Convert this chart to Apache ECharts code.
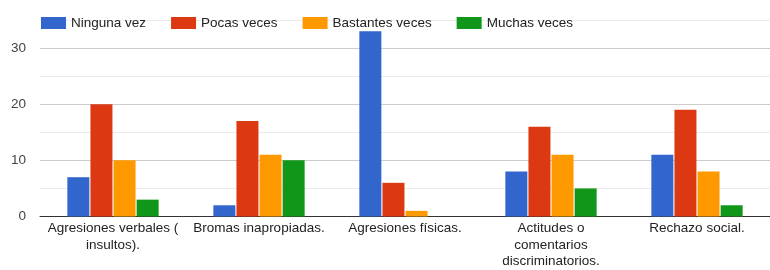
<!DOCTYPE html>
<html>
<head>
<meta charset="utf-8">
<script src="https://cdn.jsdelivr.net/npm/echarts@6/dist/echarts.min.js"></script>
<style>
html,body{margin:0;padding:0;background:#fff;}
#chart{width:770px;height:270px;}
</style>
</head>
<body>
<div id="chart"></div>
<script>
const categories = [
  "Agresiones verbales ( insultos).",
  "Bromas inapropiadas.",
  "Agresiones físicas.",
  "Actitudes o comentarios discriminatorios.",
  "Rechazo social."
];
const tickLabels = [
  "Agresiones verbales (\ninsultos).",
  "Bromas inapropiadas.",
  "Agresiones físicas.",
  "Actitudes o\ncomentarios\ndiscriminatorios.",
  "Rechazo social."
];
const seriesNames = ["Ninguna vez", "Pocas veces", "Bastantes veces", "Muchas veces"];
const ningunaVez = [7, 2, 33, 8, 11];
const pocasVeces = [20, 17, 6, 16, 19];
const bastantesVeces = [10, 11, 1, 11, 8];
const muchasVeces = [3, 10, 0, 5, 2];
const yTickLabels = ["0", "10", "20", "30"];

const colors = ["#3366cc", "#dc3912", "#ff9900", "#109618"];
const values = [ningunaVez, pocasVeces, bastantesVeces, muchasVeces];
const font = 'Arial, "Liberation Sans", sans-serif';

const chart = echarts.init(document.getElementById('chart'), null, {renderer: 'canvas'});
chart.setOption({
  animation: false,
  color: colors,
  textStyle: {fontFamily: font},
  legend: {
    left: 36,
    top: 11,
    itemWidth: 25,
    itemHeight: 12,
    itemGap: 25,
    icon: 'rect',
    textStyle: {fontSize: 13.5, color: '#222', fontFamily: font},
    data: seriesNames
  },
  grid: {left: 40, right: 0, top: 20, bottom: 51, containLabel: false},
  xAxis: {
    type: 'category',
    data: categories,
    axisTick: {show: false},
    axisLine: {lineStyle: {color: '#333', width: 1}},
    axisLabel: {
      interval: 0,
      margin: 4,
      fontSize: 13.5,
      lineHeight: 16.5,
      color: '#222',
      fontFamily: font,
      formatter: function (v, i) { return tickLabels[i]; }
    }
  },
  yAxis: {
    type: 'value',
    min: 0,
    max: 35,
    interval: 5,
    axisLine: {show: false},
    axisTick: {show: false},
    axisLabel: {
      margin: 14,
      fontSize: 13.5,
      color: '#444',
      fontFamily: font,
      formatter: function (v) {
        const s = String(v);
        return yTickLabels.indexOf(s) >= 0 ? s : '';
      }
    },
    splitLine: {lineStyle: {color: ['#cccccc', '#ebebeb'], width: 1}}
  },
  series: seriesNames.map(function (name, k) {
    return {
      name: name,
      type: 'bar',
      data: values[k],
      barWidth: 22,
      barGap: '5%',
      itemStyle: {color: colors[k]}
    };
  })
});
</script>
</body>
</html>
